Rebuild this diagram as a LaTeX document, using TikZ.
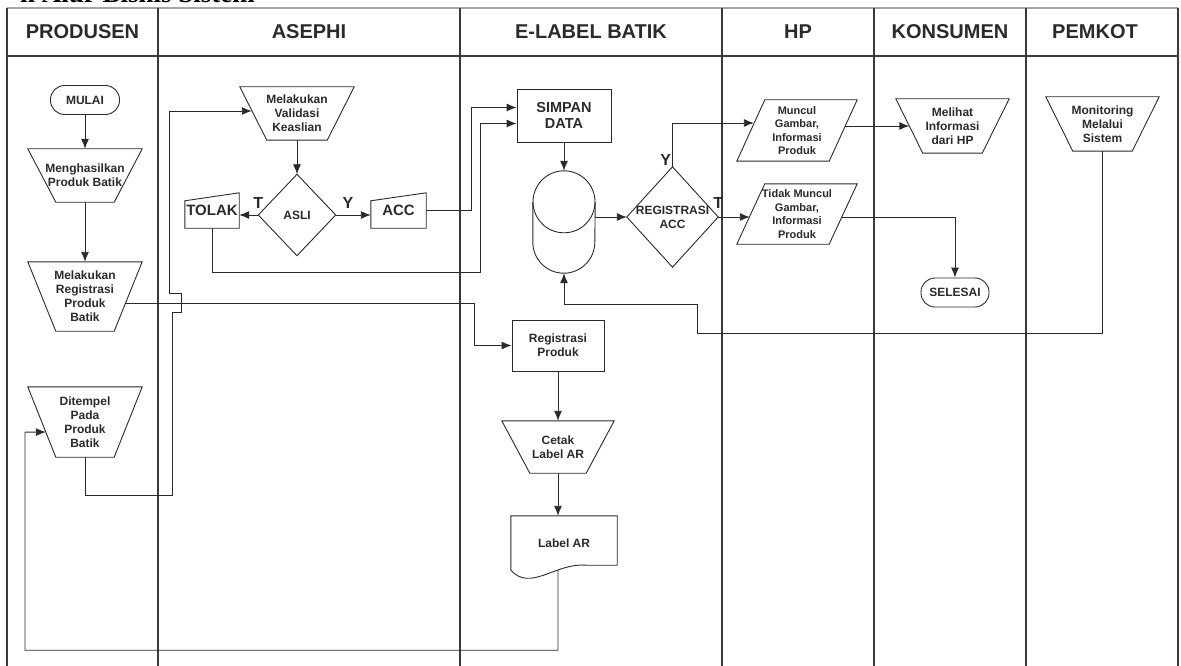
\documentclass[tikz,border=0pt]{standalone}
\usepackage{fontspec}
\setmainfont{Liberation Sans}
\newfontfamily\titlefont{Liberation Serif}
\usetikzlibrary{arrows.meta,calc}
\definecolor{ink}{HTML}{2A2A2A}
\definecolor{lane}{HTML}{3A3A3A}

\tikzset{
  >={Latex[length=10pt,width=8pt]},
  every node/.style={text=ink, font=\bfseries\fontsize{12}{14}\selectfont, align=center, inner sep=0pt},
  wire/.style={draw=ink, line width=0.9pt},
  lanes/.style={draw=lane, line width=1.1pt},
  head/.style={font=\bfseries\fontsize{20}{24}\selectfont},
  tlabel/.style={font=\bfseries\fontsize{16}{18}\selectfont},
  terminal/.style={wire, rounded corners=14pt, minimum width=69pt, minimum height=29pt},
  process/.style={wire},
  manop/.style={append after command={\pgfextra{\draw[wire] (\tikzlastnode.north west) -- (\tikzlastnode.north east) -- ([xshift=-#1]\tikzlastnode.south east) -- ([xshift=#1]\tikzlastnode.south west) -- cycle;}}},
  iobox/.style={font=\bfseries\fontsize{11}{13.5}\selectfont, append after command={\pgfextra{\draw[wire] ([xshift=#1]\tikzlastnode.north west) -- (\tikzlastnode.north east) -- ([xshift=-#1]\tikzlastnode.south east) -- (\tikzlastnode.south west) -- cycle;}}},
  manin/.style={font=\bfseries\fontsize{15}{18}\selectfont, append after command={\pgfextra{\draw[wire] ([yshift=-8pt]\tikzlastnode.north west) -- (\tikzlastnode.north east) -- (\tikzlastnode.south east) -- (\tikzlastnode.south west) -- cycle;}}},
  decision/.style={append after command={\pgfextra{\draw[wire] (\tikzlastnode.north) -- (\tikzlastnode.east) -- (\tikzlastnode.south) -- (\tikzlastnode.west) -- cycle;}}},
  docshape/.style={append after command={\pgfextra{\draw[wire] (\tikzlastnode.north west) -- (\tikzlastnode.north east) -- ([yshift=5pt]\tikzlastnode.south east) -- ([xshift=76pt,yshift=5pt]\tikzlastnode.south west) .. controls ([xshift=45pt,yshift=8pt]\tikzlastnode.south west) and ([xshift=20pt,yshift=-22pt]\tikzlastnode.south west) .. (\tikzlastnode.south west) -- cycle;}}},
  dbase/.style={append after command={\pgfextra{\draw[wire] ([yshift=-31pt]\tikzlastnode.north) circle[radius=31pt]; \draw[wire] ([yshift=-31pt]\tikzlastnode.north west) -- ([yshift=31pt]\tikzlastnode.south west) arc[start angle=180, end angle=360, radius=31pt] -- ([yshift=-31pt]\tikzlastnode.north east);}}}
}

\begin{document}
\begin{tikzpicture}[x=1pt, y=-1pt]
  \useasboundingbox (0,0) rectangle (1181,666);

  \node[anchor=base east, font=\titlefont\bfseries\fontsize{27}{30}\selectfont, text=black] (judul) at (255,3) {n Alur Bisnis Sistem};

  % lajur
  \draw[lanes, draw=gray!70] (7,8) -- (1178,8);
  \draw[lanes] (7,56) -- (1178,56);
  \foreach \lx in {7,158,460,722,874,1026,1178}
    \draw[lanes] (\lx,8) -- (\lx,666);

  \node[head] (hprodusen) at (82.5,32) {PRODUSEN};
  \node[head] (hasephi) at (309,32) {ASEPHI};
  \node[head] (helabel) at (591,32) {E-LABEL BATIK};
  \node[head] (hhp) at (798,32) {HP};
  \node[head] (hkonsumen) at (950,32) {KONSUMEN};
  \node[head] (hpemkot) at (1095,32) {PEMKOT};

  \node[terminal] (mulai) at (85,100) {MULAI};
  \node[manop=28pt, minimum width=114pt, minimum height=53pt] (hasil) at (85,175.5) {Menghasilkan\\Produk Batik};
  \node[manop=28pt, minimum width=114pt, minimum height=69pt] (regbatik) at (85,296.5) {Melakukan\\Registrasi\\Produk\\Batik};
  \node[manop=28pt, minimum width=114pt, minimum height=70pt] (tempel) at (85,422) {Ditempel\\Pada\\Produk\\Batik};

  \node[manop=27pt, minimum width=114pt, minimum height=53pt] (validasi) at (297,113.5) {Melakukan\\Validasi\\Keaslian};
  \node[decision, minimum width=77pt, minimum height=81pt] (asli) at (297,215) {ASLI};
  \node[manin, minimum width=54pt, minimum height=35pt] (tolak) at (212,210.5) {TOLAK};
  \node[manin, minimum width=55pt, minimum height=35pt] (acc) at (398.5,210.5) {ACC};

  \node[process, minimum width=94pt, minimum height=53pt, font=\bfseries\fontsize{14.5}{16}\selectfont] (simpan) at (564,115.5) {SIMPAN\\DATA};
  \node[dbase, minimum width=62pt, minimum height=102pt] (db) at (564,222) {};
  \node[decision, minimum width=91pt, minimum height=100pt] (regacc) at (672.5,217) {REGISTRASI\\ACC};
  \node[process, minimum width=92pt, minimum height=51pt] (regprod) at (558,345.5) {Registrasi\\Produk};
  \node[manop=28pt, minimum width=112pt, minimum height=52pt] (cetak) at (558,447) {Cetak\\Label AR};
  \node[docshape, minimum width=106pt, minimum height=54pt] (labelar) at (564,543) {Label AR};

  \node[iobox=28pt, minimum width=120pt, minimum height=61pt] (muncul) at (797,130.5) {Muncul\\Gambar,\\Informasi\\Produk};
  \node[iobox=28pt, minimum width=120pt, minimum height=60pt] (tdkmuncul) at (797,214) {Tidak Muncul\\Gambar,\\Informasi\\Produk};
  \node[manop=27pt, minimum width=113pt, minimum height=54pt] (melihat) at (952.5,126) {Melihat\\Informasi\\dari HP};
  \node[terminal, minimum width=68pt] (selesai) at (955,292.5) {SELESAI};
  \node[manop=27pt, minimum width=113pt, minimum height=54pt] (monitor) at (1102.5,124) {Monitoring\\Melalui\\Sistem};

  \draw[wire, ->] (mulai) -- (hasil);
  \draw[wire, ->] (hasil) -- (regbatik);
  \draw[wire, ->] (validasi) -- (asli);
  \draw[wire, ->] (asli.west) -- (asli.west -| tolak.east) node[tlabel, pos=0, above=6pt] {T};
  \draw[wire, ->] (asli.east) -- (asli.east -| acc.west) node[tlabel, pos=0.35, above=6pt] {Y};
  \draw[wire, ->] (acc.east) -| ([xshift=-45pt, yshift=8pt]simpan.west) -- ([yshift=8pt]simpan.west);
  \draw[wire, ->] (tolak.south) -- ++(0,44) -| ([xshift=-36pt, yshift=-8pt]simpan.west) -- ([yshift=-8pt]simpan.west);
  \draw[wire, ->] (simpan) -- (db);
  \draw[wire, ->] (db.east |- regacc.west) -- (regacc.west);
  \draw[wire, ->] (regacc.north) |- ([xshift=17pt, yshift=7.5pt]muncul.west) node[tlabel, pos=0, above left=1pt] {Y};
  \draw[wire, ->] (regacc.east) -- ([xshift=13pt, yshift=-3pt]tdkmuncul.west) node[tlabel, pos=0, above=8pt] {T};
  \draw[wire, ->] ($(muncul.east |- melihat.west)+(-12,0)$) -- ([xshift=13.5pt]melihat.west);
  \draw[wire, ->] ([xshift=-15pt, yshift=-3pt]tdkmuncul.east) -| (selesai.north);
  \draw[wire, ->] (monitor.south) -- ++(0,182) -| ++(-405,-29) -| (db.south);
  \draw[wire, ->] ([xshift=-16pt, yshift=-6.5pt]regbatik.east) -| ([xshift=-37pt]regprod.west) -- (regprod.west);
  \draw[wire, ->] (regprod) -- (cetak);
  \draw[wire, ->] (cetak.south) -- (cetak.south |- labelar.north);
  \draw[wire, ->] ([xshift=-6pt]labelar.south) -- ++(0,80) -| ++(-533,-218) -- ([xshift=18pt, yshift=-10pt]tempel.west);
  \draw[wire, ->] (tempel.south) -- ++(0,38) -| ++(87,-183) -- ++(9,0) -- ++(0,-19) -- ++(-12,0) |- ([xshift=12pt, yshift=2.5pt]validasi.west);
\end{tikzpicture}
\end{document}
